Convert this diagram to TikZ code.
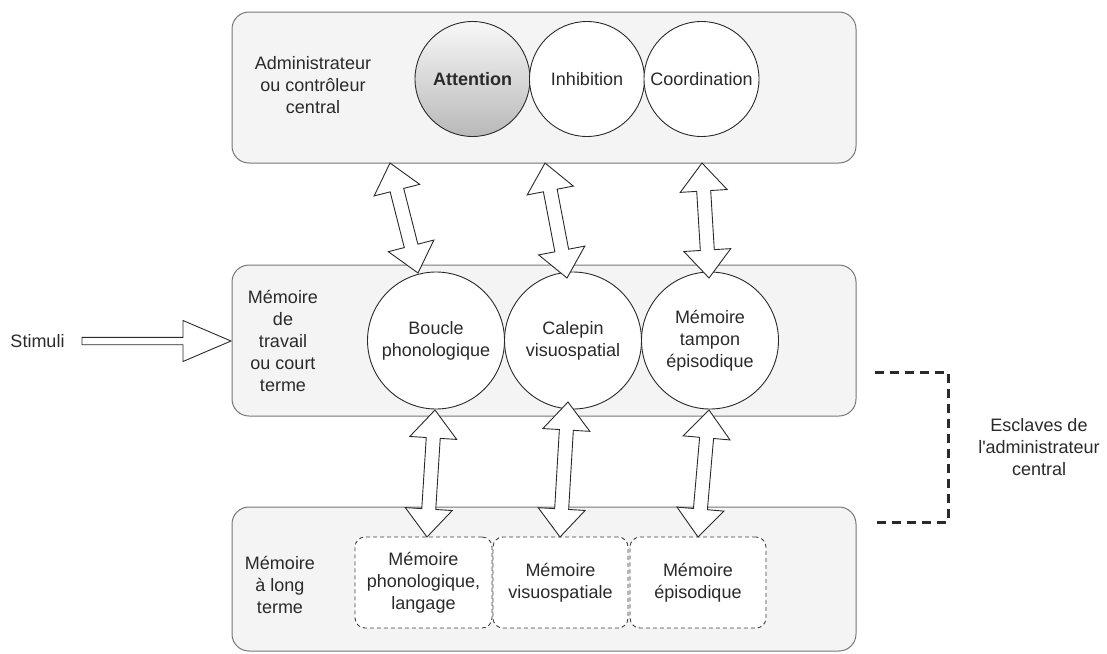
\documentclass[tikz,border=0pt]{standalone}
\usepackage{fontspec}
\setmainfont{Liberation Sans}
\usetikzlibrary{calc}
\definecolor{boxfill}{HTML}{F4F4F4}
\definecolor{boxline}{HTML}{777777}
\definecolor{inkc}{HTML}{2A2A2A}
\newcommand\DrawDblArrow[2]{%
 \path[blockarr] let \p1=(#1), \p2=(#2), \n1={atan2(\y2-\y1,\x2-\x1)} in
  (\p1) -- ($(\p1)+(\n1:28pt)+(\n1+90:23.5pt)$) -- ($(\p1)+(\n1:28pt)+(\n1+90:7pt)$)
  -- ($(\p2)+(\n1:-28pt)+(\n1+90:7pt)$) -- ($(\p2)+(\n1:-28pt)+(\n1+90:23.5pt)$)
  -- (\p2) -- ($(\p2)+(\n1:-28pt)+(\n1-90:23.5pt)$) -- ($(\p2)+(\n1:-28pt)+(\n1-90:7pt)$)
  -- ($(\p1)+(\n1:28pt)+(\n1-90:7pt)$) -- ($(\p1)+(\n1:28pt)+(\n1-90:23.5pt)$) -- cycle;}
\newcommand\DrawSglArrow[2]{%
 \path[blockarr] let \p1=(#1), \p2=(#2), \n1={atan2(\y2-\y1,\x2-\x1)} in
  ($(\p1)+(\n1+90:3.7pt)$) -- ($(\p2)+(\n1:-48pt)+(\n1+90:3.7pt)$) -- ($(\p2)+(\n1:-48pt)+(\n1+90:20.5pt)$)
  -- (\p2) -- ($(\p2)+(\n1:-48pt)+(\n1-90:20.5pt)$) -- ($(\p2)+(\n1:-48pt)+(\n1-90:3.7pt)$)
  -- ($(\p1)+(\n1-90:3.7pt)$) -- cycle;}
\tikzset{
 txt/.style={font=\fontsize{18}{22}\selectfont},
 lbl/.style={txt, text=inkc, align=center, inner sep=0pt},
 bigbox/.style={draw=boxline, fill=boxfill, rounded corners=17pt, line width=1pt, minimum width=624pt, inner sep=0pt},
 circ/.style={circle, draw=inkc, fill=white, line width=0.9pt, inner sep=0pt, txt, text=inkc, align=center},
 membox/.style={draw=inkc!90, dash pattern=on 4pt off 3pt, rounded corners=10pt, fill=white, line width=0.9pt,
   minimum height=91pt, inner sep=0pt, txt, text=inkc, align=center},
 blockarr/.style={draw=inkc, fill=white, line width=0.9pt, line join=miter},
 bracket/.style={draw=inkc, line width=3pt, dash pattern=on 9pt off 6pt},
}
\begin{document}
\begin{tikzpicture}[x=1pt,y=-1pt]
\useasboundingbox (0,0) rectangle (1107,653);
% containers
\node[bigbox, minimum height=151pt] (topbox) at (544,87.5) {};
\node[bigbox, minimum height=151pt] (midbox) at (544,340.5) {};
\node[bigbox, minimum height=144pt] (lowbox) at (544,579) {};
% top row
\node[lbl] (admin) at (313,85) {Administrateur\\ou contrôleur\\central};
\node[circ, minimum size=115pt, top color=gray!6, bottom color=gray!55, font=\fontsize{18}{22}\selectfont\bfseries] (att) at (472.5,79) {Attention};
\node[circ, minimum size=115pt] (inh) at (587,79) {Inhibition};
\node[circ, minimum size=115pt] (coo) at (701.5,79) {Coordination};
% middle row
\node[lbl] (mdt) at (283,341) {Mémoire\\de\\travail\\ou court\\terme};
\node[circ, minimum size=137pt] (bou) at (436,340.5) {Boucle\\phonologique};
\node[circ, minimum size=137pt] (cal) at (573,340.5) {Calepin\\visuospatial};
\node[circ, minimum size=137pt] (tam) at (710,340.5) {Mémoire\\tampon\\épisodique};
% bottom row
\node[lbl] (mlt) at (280,585) {Mémoire\\à long\\terme};
\node[membox, minimum width=137pt] (mph) at (423.5,582.5) {Mémoire\\phonologique,\\langage};
\node[membox, minimum width=135pt] (mvs) at (560.5,582.5) {Mémoire\\visuospatiale};
\node[membox, minimum width=136pt] (mep) at (698,582.5) {Mémoire\\épisodique};
% stimuli
\node[lbl] (stim) at (37.5,341) {Stimuli};
\coordinate (stimA) at (82,341);
\coordinate (stimB) at (231,341);
\DrawSglArrow{stimA}{stimB}
% arrow end points
\coordinate (a1t) at (390,163); \coordinate (a1b) at (418,273);
\coordinate (a2t) at (545,163); \coordinate (a2b) at (567,278);
\coordinate (a3t) at (702,163); \coordinate (a3b) at (709,278);
\coordinate (a4t) at (435,410); \coordinate (a4b) at (427,537);
\coordinate (a5t) at (568,402); \coordinate (a5b) at (560,537);
\coordinate (a6t) at (709,410); \coordinate (a6b) at (698,537);
\DrawDblArrow{a1t}{a1b}
\DrawDblArrow{a2t}{a2b}
\DrawDblArrow{a3t}{a3b}
\DrawDblArrow{a4t}{a4b}
\DrawDblArrow{a5t}{a5b}
\DrawDblArrow{a6t}{a6b}
% bracket
\coordinate (br1) at (875,372); \coordinate (br2) at (948,372);
\coordinate (br3) at (948,522); \coordinate (br4) at (875,522);
\draw[bracket] (br1) -- (br2) -- (br3) -- (br4);
\node[lbl] (escl) at (1039,447) {Esclaves de\\l\textquotesingle administrateur\\central};
\end{tikzpicture}
\end{document}
